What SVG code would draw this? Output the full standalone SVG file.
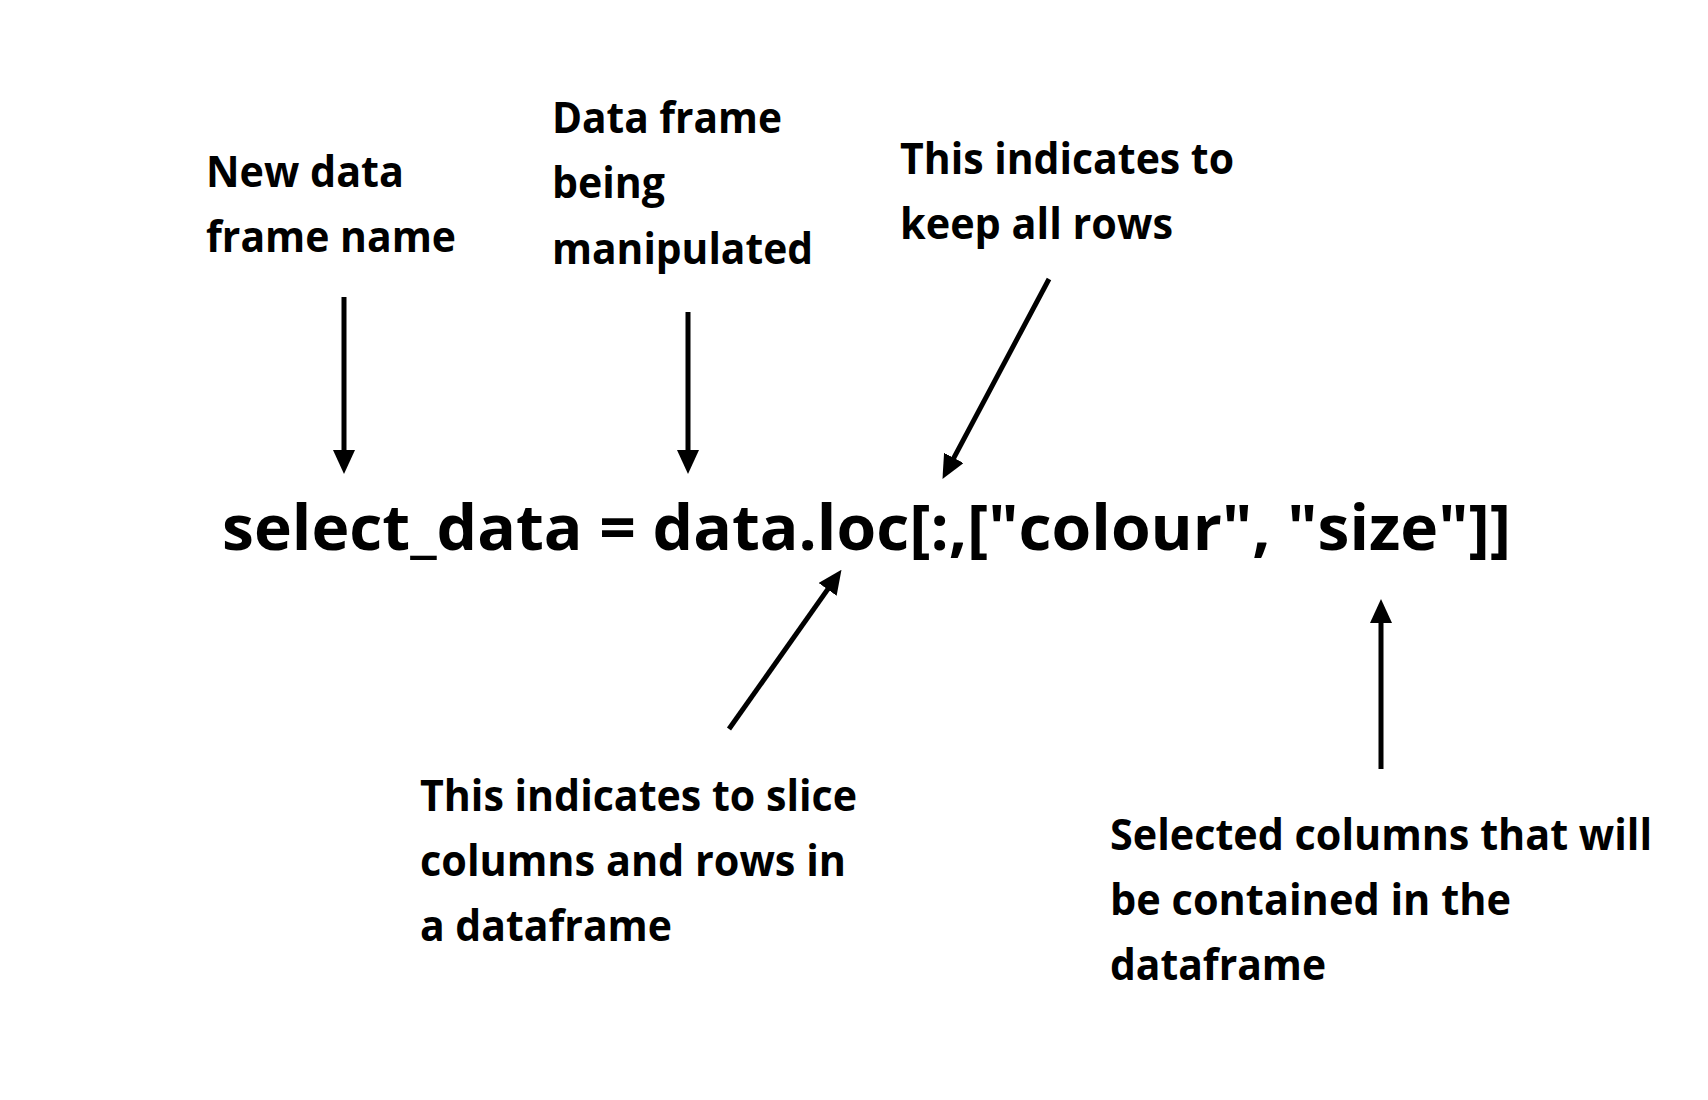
<svg xmlns="http://www.w3.org/2000/svg" width="1708" height="1100" viewBox="0 0 1708 1100">
  <style>
    .lbl { font-family: "Open Sans", "Liberation Sans", sans-serif; font-weight: 700; font-size: 43px; fill: #000; }
    .code { font-family: "Open Sans", "Liberation Sans", sans-serif; font-weight: 700; font-size: 62px; fill: #000; }
    .arrow { stroke: #000; stroke-width: 5; fill: none; marker-end: url(#head); }
  </style>
  <defs>
    <marker id="head" markerUnits="userSpaceOnUse" markerWidth="24" markerHeight="22" refX="1" refY="11" orient="auto">
      <path d="M0,0 L24,11 L0,22 z" fill="#000"/>
    </marker>
  </defs>
  <rect width="1708" height="1100" fill="#fff"/>

  <g id="code-line">
    <text class="code" x="222" y="550" textLength="1289" lengthAdjust="spacingAndGlyphs">select_data = data.loc[:,["colour", "size"]]</text>
  </g>

  <g id="label-new-frame">
    <text class="lbl" x="206" y="187" textLength="198" lengthAdjust="spacingAndGlyphs">New data</text>
    <text class="lbl" x="206" y="252" textLength="250" lengthAdjust="spacingAndGlyphs">frame name</text>
  </g>

  <g id="label-data-frame">
    <text class="lbl" x="552" y="133" textLength="230" lengthAdjust="spacingAndGlyphs">Data frame</text>
    <text class="lbl" x="552" y="198" textLength="113" lengthAdjust="spacingAndGlyphs">being</text>
    <text class="lbl" x="552" y="264" textLength="261" lengthAdjust="spacingAndGlyphs">manipulated</text>
  </g>

  <g id="label-keep-rows">
    <text class="lbl" x="900" y="174" textLength="334" lengthAdjust="spacingAndGlyphs">This indicates to</text>
    <text class="lbl" x="900" y="239" textLength="273" lengthAdjust="spacingAndGlyphs">keep all rows</text>
  </g>

  <g id="label-slice">
    <text class="lbl" x="420" y="811" textLength="437" lengthAdjust="spacingAndGlyphs">This indicates to slice</text>
    <text class="lbl" x="420" y="876" textLength="426" lengthAdjust="spacingAndGlyphs">columns and rows in</text>
    <text class="lbl" x="420" y="941" textLength="252" lengthAdjust="spacingAndGlyphs">a dataframe</text>
  </g>

  <g id="label-selected-columns">
    <text class="lbl" x="1110" y="850" textLength="542" lengthAdjust="spacingAndGlyphs">Selected columns that will</text>
    <text class="lbl" x="1110" y="915" textLength="401" lengthAdjust="spacingAndGlyphs">be contained in the</text>
    <text class="lbl" x="1110" y="980" textLength="216" lengthAdjust="spacingAndGlyphs">dataframe</text>
  </g>

  <g id="connectors">
    <line class="arrow" x1="344" y1="297" x2="344" y2="451"/>
    <line class="arrow" x1="688" y1="312" x2="688" y2="451"/>
    <line class="arrow" x1="1049" y1="279" x2="953.3" y2="458.8"/>
    <line class="arrow" x1="729" y1="729" x2="828.2" y2="588.6"/>
    <line class="arrow" x1="1381" y1="769" x2="1381" y2="622"/>
  </g>
</svg>
